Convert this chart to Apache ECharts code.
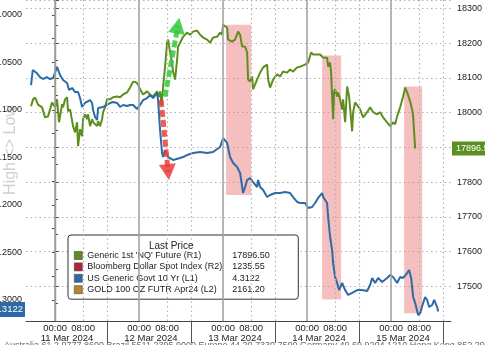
<!DOCTYPE html>
<html><head><meta charset="utf-8">
<script src="https://cdn.jsdelivr.net/npm/echarts@6/dist/echarts.min.js"></script>
<style>html,body{margin:0;padding:0;background:#fff}#c{width:485px;height:345px}</style>
</head><body><div id="c"></div>
<script>
// ---- DATA (x = hours from 11 Mar 2024 00:00) ----
const nqHours = [-6.86,-6.29,-5.71,-4.86,-3.71,-2.86,-2.0,-0.86,-0.57,0,
0.57,1.14,2.0,2.29,2.86,3.43,3.71,4.29,5.14,5.71,
6.29,6.57,7.14,7.71,8.0,8.57,9.14,9.43,10.0,10.57,
10.86,12.0,12.29,12.86,13.43,13.71,14.29,14.86,15.71,16.57,
17.71,18.57,19.43,20.57,21.43,22.29,23.14,23.71,24.29,25.14,
26.29,27.14,28.0,29.14,29.71,30.0,30.43,30.86,31.43,32.0,
32.29,32.86,33.43,33.71,34.29,34.86,35.14,35.71,36.57,37.71,
38.57,39.43,40.57,41.43,42.29,43.43,44.29,45.14,46.29,47.14,
47.71,48.0,49.14,49.43,50.57,51.43,52.29,52.86,53.43,53.71,
54.29,54.86,55.14,55.71,56.29,56.57,57.71,58.57,59.43,60.57,
60.86,61.43,62.29,63.43,64.29,65.14,66.29,67.14,68.0,69.14,
70.0,71.43,72.29,73.14,73.71,74.86,75.71,76.57,77.71,78.0,
78.57,78.86,79.14,79.43,79.71,80.0,80.57,80.86,81.43,82.0,
82.29,82.86,83.43,84.0,84.86,85.14,85.71,86.57,87.14,88.0,
89.14,90.0,90.86,92.0,92.86,93.71,94.86,95.71,96.57,97.14,
97.71,98.57,99.43,100.0,100.57,100.86,101.43,102.0,102.29,102.86];
const nqValues = [18018,18038,18043,18023,18015,17986,17989,18029,18032,18015,
18038,17972,18024,18015,18038,18044,18004,18009,17961,17943,
17972,17903,17952,17932,17981,17995,17981,17995,17961,17981,
17972,17961,17975,17961,17981,18001,18015,18038,18038,18044,
18046,18044,18052,18058,18072,18089,18087,18081,18067,18052,
18061,18052,18046,18061,18046,18061,18021,18075,18132,18201,
18210,18173,18144,18118,18095,18152,18190,18201,18218,18230,
18224,18233,18236,18224,18216,18210,18201,18216,18218,18230,
18224,18253,18244,18210,18204,18210,18233,18224,18190,18187,
18190,18173,18095,18089,18104,18067,18095,18115,18130,18138,
18095,18072,18095,18110,18104,18118,18115,18124,18118,18130,
18132,18138,18144,18173,18167,18167,18167,18158,18158,18132,
18144,18115,18046,17981,18061,18067,18046,18058,18038,18009,
18038,17972,18075,18046,17946,18001,18029,18018,18009,17986,
18001,18015,18001,17995,18001,17986,17972,17961,17972,17966,
17989,18015,18046,18072,18058,18058,18032,18009,17989,17896.5];

const ustHours = [-6.86,-6.37,-5.23,-4.29,-3.43,-2.37,-1.43,-0.57,0,0.57,
1.43,2.29,2.86,3.43,4.0,4.86,5.71,6.57,7.14,7.71,
8.0,8.57,9.14,10.0,10.57,10.86,11.43,12.0,12.29,12.86,
13.71,14.86,15.71,16.57,17.71,18.57,19.43,20.57,21.43,22.29,
23.43,24.29,25.14,26.29,27.14,28.0,29.14,29.43,30.0,30.57,
30.86,31.43,32.29,33.71,35.71,36.57,37.71,39.43,41.43,43.43,
45.14,47.14,48.0,49.14,50.0,50.86,52.0,52.86,53.71,54.29,
54.86,55.71,56.57,57.71,58.0,58.57,59.43,60.57,61.43,62.86,
64.29,65.71,67.14,68.0,69.14,70.0,71.43,72.29,73.43,74.29,
75.14,76.29,76.57,77.71,78.0,78.57,79.14,79.43,80.0,80.57,
81.14,82.0,82.86,83.71,84.86,86.29,87.71,89.14,90.0,90.57,
91.43,92.29,93.43,94.86,95.71,96.57,97.71,98.57,99.43,100.57,
101.14,101.71,102.29,102.86,103.71,104.29,105.14,105.71,106.29,106.86,
107.71,108.29,109.14,109.43];
const ustValues = [4.0737,4.0579,4.0611,4.0653,4.0674,4.0653,4.0674,4.0663,4.0684,4.0547,
4.0632,4.0684,4.0674,4.0716,4.0789,4.0768,4.0811,4.0811,4.0874,4.0968,
4.0979,4.0926,4.0947,4.0895,4.0926,4.1,4.1074,4.1105,4.0979,4.0968,
4.0968,4.0947,4.0926,4.0916,4.0926,4.0968,4.0947,4.0958,4.0947,4.0947,
4.0989,4.0947,4.0895,4.0874,4.0842,4.0874,4.0821,4.0895,4.1211,4.1453,
4.1495,4.1421,4.1495,4.1526,4.1505,4.1495,4.1474,4.1453,4.1442,4.1453,
4.1442,4.1389,4.1295,4.1347,4.1495,4.1558,4.16,4.1663,4.1874,4.1811,
4.1737,4.1716,4.1758,4.1811,4.1737,4.1811,4.1842,4.1916,4.1895,4.1874,
4.1874,4.1863,4.1874,4.1916,4.1968,4.1979,4.1979,4.2032,4.2021,4.1979,
4.1926,4.1874,4.1916,4.1979,4.2126,4.2337,4.2474,4.2611,4.2758,4.2821,
4.2895,4.2821,4.2895,4.2947,4.2926,4.2895,4.2895,4.2905,4.2842,4.2768,
4.2821,4.2768,4.2811,4.2768,4.2737,4.2758,4.2821,4.2758,4.2768,4.2716,
4.2684,4.2768,4.2968,4.3032,4.3158,4.3137,4.3032,4.2968,4.3,4.3074,
4.3053,4.3,4.3074,4.3122];

const seriesNames = ["Generic 1st 'NQ' Future (R1)", "Bloomberg Dollar Spot Index (R2)", "US Generic Govt 10 Yr (L1)", "GOLD 100 OZ FUTR Apr24 (L2)"];
const lastPrices = ["17896.50", "1235.55", "4.3122", "2161.20"];
const nqLast = 17896.5;
const ustLast = 4.3122;

const timeTicks = [0,8,24,32,48,56,72,80,96,104];
const dayStarts = [0,24,48,72,96];
const dayEights = [8,32,56,80,104];
const daySeparators = [15,39,63,87,111];
const dateCenters = [3.4,27.4,51.4,75.4,99.4];
const dateLabels = ["11 Mar 2024","12 Mar 2024","13 Mar 2024","14 Mar 2024","15 Mar 2024"];

const ustTickLabels = [4.0,4.05,4.1,4.15,4.2,4.25,4.3];
const ustMinorTicks = [4.0,4.025,4.05,4.075,4.1,4.125,4.15,4.175,4.2,4.225,4.25,4.275,4.3];

// shaded sell-off windows (hours, NQ scale)
const shadeStart = [48.86, 76.29, 99.71];
const shadeEnd = [56.0, 81.71, 104.86];
const shadeHigh = [18253, 18164, 18075];
const shadeLow = [17763, 17462, 17422];

// annotation arrows
const upArrowFrom = [31.4, 18046], upArrowTo = [35.1, 18250];
const downArrowFrom = [30.3, 4.0895], downArrowTo = [32.3, 4.1653];

// ---- CHART ----
const FONT = '"Liberation Sans", Arial, sans-serif';
const nqData = nqHours.map((h, i) => [h, nqValues[i]]);
const ustData = ustHours.map((h, i) => [h, ustValues[i]]);
const xMin = -8.3, xMax = 113.1;

const gridLines = [];
dayStarts.forEach(v => gridLines.push({xAxis: v, lineStyle: {color: '#a3a3a3', width: 1.6, type: 'solid'}}));
dayEights.concat(daySeparators).forEach(v => gridLines.push({xAxis: v, lineStyle: {color: '#b3b3b3', width: 1.2, type: [1.5, 3]}}));

const shadeAreas = shadeStart.map((s, i) => [{xAxis: s, yAxis: shadeHigh[i]}, {xAxis: shadeEnd[i], yAxis: shadeLow[i]}]);

const chart = echarts.init(document.getElementById('c'), null, {renderer: 'canvas'});
const option = {
  animation: false,
  backgroundColor: '#fff',
  grid: {left: 26, right: 34, top: 0, bottom: 24, containLabel: false, outerBoundsMode: 'none'},
  title: {text: 'Last Price', left: 149, top: 241, padding: 0, z: 8,
    textStyle: {fontSize: 10, fontWeight: 'normal', color: '#222', fontFamily: FONT}},
  legend: {
    data: seriesNames, orient: 'vertical', left: 68, top: 235,
    padding: [15, 8, 4, 6], itemGap: 0.4, itemWidth: 8, itemHeight: 8, icon: 'rect',
    backgroundColor: '#fff', borderColor: '#333', borderWidth: 1, borderRadius: 3,
    itemStyle: {borderColor: '#444', borderWidth: 0.6},
    formatter: name => '{n|' + name + '}{v|' + lastPrices[seriesNames.indexOf(name)] + '}',
    textStyle: {fontFamily: FONT, fontSize: 9, color: '#222', lineHeight: 11,
      rich: {n: {width: 145, fontFamily: FONT, fontSize: 9, color: '#222', lineHeight: 11},
             v: {width: 58, fontFamily: FONT, fontSize: 9, color: '#222', lineHeight: 11}}},
    selectedMode: false
  },
  xAxis: [{
    type: 'value', min: xMin, max: xMax,
    axisLine: {show: true, lineStyle: {color: '#444', width: 1}},
    axisTick: {show: true, customValues: daySeparators, length: 22, lineStyle: {color: '#555', width: 1}},
    axisLabel: {customValues: timeTicks, formatter: v => (v % 24 === 0 ? '00:00' : '08:00'),
      margin: 2, fontSize: 9.5, color: '#222', fontFamily: FONT},
    splitLine: {show: false}
  }, {
    type: 'value', min: xMin, max: xMax, position: 'bottom', offset: 11,
    axisLine: {show: false}, axisTick: {show: false}, splitLine: {show: false},
    axisLabel: {customValues: dateCenters, formatter: v => dateLabels[dateCenters.indexOf(v)],
      margin: 1, fontSize: 9.5, color: '#222', fontFamily: FONT}
  }],
  yAxis: [{
    type: 'value', inverse: true, min: 3.98421, max: 4.32211, position: 'left',
    axisLine: {show: true, lineStyle: {color: '#888', width: 1}},
    axisTick: {show: true, customValues: ustMinorTicks, length: 3, lineStyle: {color: '#444'}},
    axisLabel: {customValues: ustTickLabels, formatter: v => v.toFixed(4), margin: 4,
      fontSize: 9, color: '#222', fontFamily: FONT},
    splitLine: {show: false}
  }, {
    type: 'value', min: 17400, max: 18324, interval: 100, position: 'right',
    axisLine: {show: true, lineStyle: {color: '#7f8f4a', width: 1.4}},
    axisTick: {show: true, length: 4, lineStyle: {color: '#555'}},
    minorTick: {show: true, splitNumber: 2, length: 3, lineStyle: {color: '#555'}},
    axisLabel: {margin: 6, fontSize: 9, color: '#222', fontFamily: FONT, showMinLabel: false, showMaxLabel: false,
      formatter: v => String(Math.round(v))},
    splitLine: {show: true, lineStyle: {color: '#b3b3b3', width: 1.2, type: [1.5, 3]}}
  }],
  graphic: [
    {type: 'text', x: 11, y: 150, rotation: Math.PI / 2, z: 0,
     style: {text: 'High <> Low', font: '16px "Liberation Sans"', fill: '#cfcfcf', align: 'center', verticalAlign: 'middle'}},
    {type: 'text', left: 4, top: 341, z: 0,
     style: {text: 'Australia 61 2 9777 8600 Brazil 5511 2395 9000 Europe 44 20 7330 7500 Germany 49 69 9204 1210 Hong Kong 852 2977 6000',
       font: '9px "Liberation Sans"', fill: '#666'}}
  ],
  series: [
    {name: '_grid', type: 'line', xAxisIndex: 0, yAxisIndex: 1, data: nqData, showSymbol: false, silent: true, z: 1,
     lineStyle: {opacity: 0}, itemStyle: {opacity: 0},
     markLine: {silent: true, symbol: 'none', label: {show: false}, data: gridLines}},
    {name: seriesNames[0], type: 'line', xAxisIndex: 0, yAxisIndex: 1, data: nqData, showSymbol: false, z: 3, clip: false,
     color: '#5e8e1f', lineStyle: {width: 2, color: '#5e8e1f'},
     markLine: {silent: true, symbol: 'none', z: 20, data: [
       [{coord: upArrowFrom, symbol: 'none'},
        {coord: upArrowTo, symbol: 'triangle', symbolSize: [17, 16],
         lineStyle: {color: 'rgba(50,200,60,0.85)', width: 5, type: [7, 3]}, label: {show: false}}],
       {yAxis: nqLast, lineStyle: {color: 'rgba(0,0,0,0)', width: 0},
        label: {show: true, position: 'end', distance: 1, formatter: '17896.50', color: '#fff',
          backgroundColor: '#5a8f22', padding: [3, 2, 2, 4], fontSize: 9, fontFamily: FONT}}
     ]}},
    {name: seriesNames[1], type: 'line', xAxisIndex: 0, yAxisIndex: 1, data: [], showSymbol: false, color: '#b5233b'},
    {name: seriesNames[2], type: 'line', xAxisIndex: 0, yAxisIndex: 0, data: ustData, showSymbol: false, z: 3, clip: false,
     color: '#2d6ba6', lineStyle: {width: 2, color: '#2d6ba6'},
     markLine: {silent: true, symbol: 'none', z: 20, data: [
       [{coord: downArrowFrom, symbol: 'none'},
        {coord: downArrowTo, symbol: 'triangle', symbolSize: [17, 16],
         lineStyle: {color: 'rgba(235,60,60,0.85)', width: 5, type: [7, 3]}, label: {show: false}}],
       {yAxis: ustLast, lineStyle: {color: 'rgba(0,0,0,0)', width: 0},
        label: {show: true, position: 'start', distance: 1, formatter: '4.3122', color: '#fff',
          backgroundColor: '#2d6ba6', padding: [3, 2, 2, 2], fontSize: 9.5, fontFamily: FONT}}
     ]}},
    {name: seriesNames[3], type: 'line', xAxisIndex: 0, yAxisIndex: 0, data: [], showSymbol: false, color: '#b8862a'},
    {name: '_shade', type: 'line', xAxisIndex: 0, yAxisIndex: 1, data: nqData, showSymbol: false, silent: true, z: 10,
     lineStyle: {opacity: 0}, itemStyle: {opacity: 0},
     markArea: {silent: true, itemStyle: {color: 'rgba(238,128,128,0.5)'}, data: shadeAreas}}
  ]
};
chart.setOption(option);
</script>
</body></html>
